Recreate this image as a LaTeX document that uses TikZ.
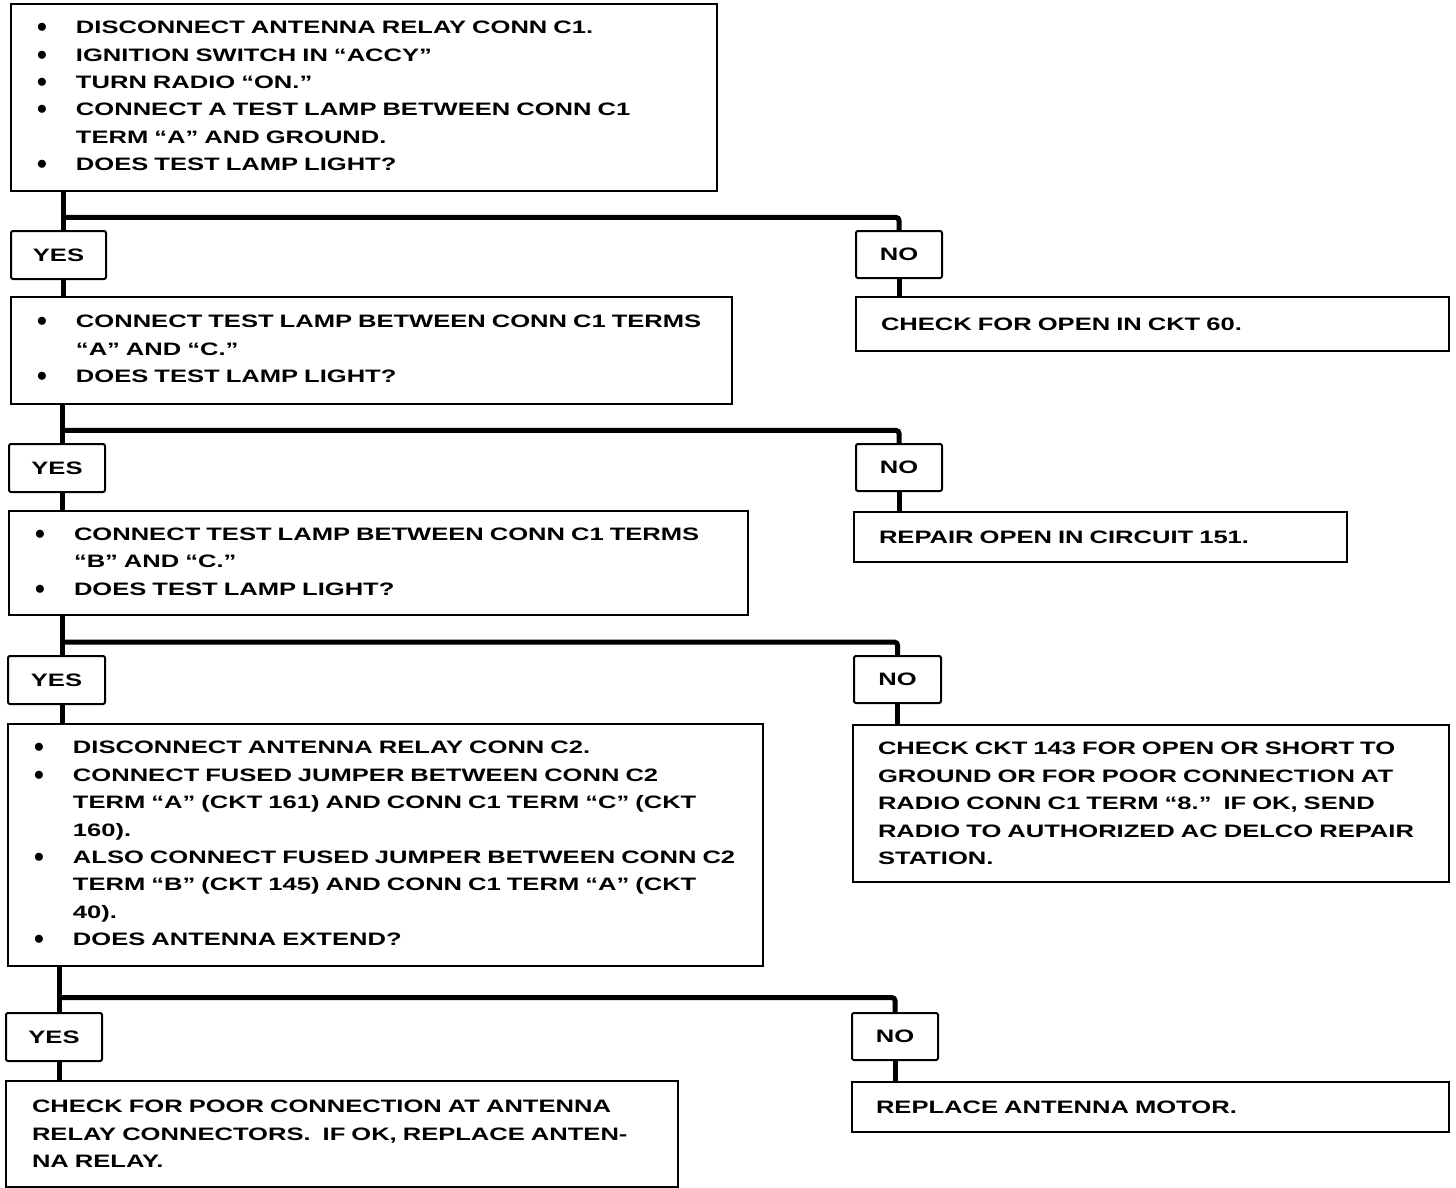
\documentclass[tikz,border=0pt]{standalone}
\usepackage{fontspec}
\setmainfont{Liberation Sans}[FakeStretch=1.42]
\newfontfamily\dotfont{Liberation Sans}
\usetikzlibrary{calc}

\newcommand{\boxfont}{\fontsize{18}{27.4}\selectfont\bfseries}
\newcommand{\bul}[1]{\mbox{\makebox[39pt][l]{\raisebox{-3pt}{\dotfont\fontsize{28}{28}\selectfont\textbullet}}#1}}
\newcommand{\cont}[1]{\mbox{\hspace*{39pt}#1}}

\tikzstyle{question}=[draw, line width=2pt, anchor=north west, align=left, inner xsep=26pt, inner ysep=0pt, font=\boxfont]
\tikzstyle{answer}=[draw, line width=2pt, anchor=north west, rounded corners=2pt, inner sep=0pt, font=\boxfont]
\tikzstyle{link}=[line width=5pt]

\begin{document}
\begin{tikzpicture}[x=1pt, y=-1pt]
\useasboundingbox (0,0) rectangle (1456,1188);

% left column: tests
\node[question, text width=654pt, minimum height=187pt] (q1) at (10,3) {%
\bul{DISCONNECT ANTENNA RELAY CONN C1.}\\
\bul{IGNITION SWITCH IN “ACCY”}\\
\bul{TURN RADIO “ON.”}\\
\bul{CONNECT A TEST LAMP BETWEEN CONN C1}\\
\cont{TERM “A” AND GROUND.}\\
\bul{DOES TEST LAMP LIGHT?}};
\node[question, text width=669pt, minimum height=107pt] (q2) at (10,296) {%
\bul{CONNECT TEST LAMP BETWEEN CONN C1 TERMS}\\
\cont{“A” AND “C.”}\\
\bul{DOES TEST LAMP LIGHT?}};
\node[question, text width=687pt, minimum height=104pt] (q3) at (8,510) {%
\bul{CONNECT TEST LAMP BETWEEN CONN C1 TERMS}\\
\cont{“B” AND “C.”}\\
\bul{DOES TEST LAMP LIGHT?}};
\node[question, text width=703pt, minimum height=242pt] (q4) at (7,723) {%
\bul{DISCONNECT ANTENNA RELAY CONN C2.}\\
\bul{CONNECT FUSED JUMPER BETWEEN CONN C2}\\
\cont{TERM “A” (CKT 161) AND CONN C1 TERM “C” (CKT}\\
\cont{160).}\\
\bul{ALSO CONNECT FUSED JUMPER BETWEEN CONN C2}\\
\cont{TERM “B” (CKT 145) AND CONN C1 TERM “A” (CKT}\\
\cont{40).}\\
\bul{DOES ANTENNA EXTEND?}};
\node[question, text width=620pt, minimum height=106pt] (q5) at (5,1080) {%
CHECK FOR POOR CONNECTION AT ANTENNA\\
RELAY CONNECTORS.\ \ IF OK, REPLACE ANTEN-\\
NA RELAY.};

% right column: repairs
\node[question, inner xsep=25pt, text width=543pt, minimum height=54pt] (r1) at (855,296) {CHECK FOR OPEN IN CKT 60.};
\node[question, inner xsep=25pt, text width=443pt, minimum height=50pt] (r2) at (853,511) {REPAIR OPEN IN CIRCUIT 151.};
\node[question, inner xsep=25pt, text width=546pt, minimum height=157pt] (r3) at (852,724) {%
CHECK CKT 143 FOR OPEN OR SHORT TO\\
GROUND OR FOR POOR CONNECTION AT\\
RADIO CONN C1 TERM “8.”\ \ IF OK, SEND\\
RADIO TO AUTHORIZED AC DELCO REPAIR\\
STATION.};
\node[question, inner xsep=24pt, text width=549pt, minimum height=50pt] (r4) at (851,1081) {REPLACE ANTENNA MOTOR.};

% answers
\node[answer, minimum width=95pt, minimum height=48pt] (yes1) at (10,230) {YES};
\node[answer, minimum width=86pt, minimum height=47pt] (no1) at (855,230) {NO};
\node[answer, minimum width=96pt, minimum height=48pt] (yes2) at (8,443) {YES};
\node[answer, minimum width=86pt, minimum height=47pt] (no2) at (855,443) {NO};
\node[answer, minimum width=97pt, minimum height=48pt] (yes3) at (7,655) {YES};
\node[answer, minimum width=87pt, minimum height=47pt] (no3) at (853,655) {NO};
\node[answer, minimum width=96pt, minimum height=48pt] (yes4) at (5,1012) {YES};
\node[answer, minimum width=86pt, minimum height=47pt] (no4) at (851,1012) {NO};

% trunk and branch points
\coordinate (t1) at ([xshift=5pt]yes1.north);
\coordinate (t2) at ([xshift=5pt]yes2.north);
\coordinate (t3) at ([xshift=6pt]yes3.north);
\coordinate (t4) at ([xshift=5pt]yes4.north);
\coordinate (j1) at ($(t1)!0.33!(t1 |- q1.south)$);
\coordinate (j2) at ($(t2)!0.33!(t2 |- q2.south)$);
\coordinate (j3) at ($(t3)!0.33!(t3 |- q3.south)$);
\coordinate (j4) at ($(t4)!0.32!(t4 |- q4.south)$);

\draw[link] (t1 |- q1.south) -- (t1);
\draw[link] (t1 |- yes1.south) -- (t1 |- q2.north);
\draw[link, rounded corners=3pt] (j1) -| (no1.north);
\draw[link] (no1.south) -- (no1.south |- r1.north);

\draw[link] (t2 |- q2.south) -- (t2);
\draw[link] (t2 |- yes2.south) -- (t2 |- q3.north);
\draw[link, rounded corners=3pt] (j2) -| (no2.north);
\draw[link] (no2.south) -- (no2.south |- r2.north);

\draw[link] (t3 |- q3.south) -- (t3);
\draw[link] (t3 |- yes3.south) -- (t3 |- q4.north);
\draw[link, rounded corners=3pt] (j3) -| (no3.north);
\draw[link] (no3.south) -- (no3.south |- r3.north);

\draw[link] (t4 |- q4.south) -- (t4);
\draw[link] (t4 |- yes4.south) -- (t4 |- q5.north);
\draw[link, rounded corners=3pt] (j4) -| (no4.north);
\draw[link] (no4.south) -- (no4.south |- r4.north);

\end{tikzpicture}
\end{document}
